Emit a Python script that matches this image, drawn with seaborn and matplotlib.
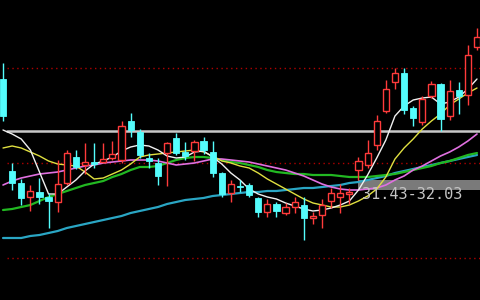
import numpy as np
import pandas as pd
import matplotlib
matplotlib.use("Agg")
import matplotlib.pyplot as plt
import seaborn as sns

# ---- data (prices) ----
open_ = [38.09, 32.57, 31.85, 31.01, 31.31, 31.01, 30.71, 31.85, 33.41, 32.93,
         33.11, 33.11, 33.35, 33.23, 35.57, 34.91, 33.35, 33.05, 33.65, 34.55,
         33.71, 33.77, 34.37, 33.71, 32.45, 31.25, 31.67, 31.73, 30.95, 30.11,
         30.59, 30.05, 30.41, 30.53, 29.75, 29.93, 30.77, 31.01, 31.19, 32.63,
         32.93, 34.13, 36.17, 37.91, 38.45, 36.35, 35.51, 37.07, 37.79, 35.87,
         37.43, 37.13, 40.01]
close = [35.87, 31.85, 30.95, 31.37, 31.01, 30.77, 31.79, 33.65, 32.81, 33.11,
         32.99, 33.29, 33.59, 35.27, 35.03, 33.53, 33.17, 32.27, 34.25, 33.65,
         33.47, 34.31, 33.83, 32.45, 31.19, 31.79, 31.61, 31.13, 30.11, 30.59,
         30.17, 30.41, 30.71, 29.75, 29.87, 30.53, 31.25, 31.25, 31.31, 33.17,
         33.65, 35.57, 37.49, 38.45, 36.23, 35.75, 36.89, 37.79, 35.69, 37.37,
         37.07, 39.53, 40.61]
high = [39.05, 33.05, 32.09, 31.73, 32.15, 31.25, 33.23, 33.83, 33.83, 34.25,
        34.25, 34.25, 34.37, 35.57, 36.05, 35.09, 33.65, 33.35, 34.31, 34.85,
        34.31, 34.43, 34.61, 34.37, 32.51, 32.03, 32.03, 31.85, 31.01, 30.89,
        30.71, 30.65, 31.01, 31.01, 30.11, 30.89, 31.55, 31.79, 31.55, 33.41,
        34.43, 35.93, 38.03, 38.75, 38.75, 36.47, 37.07, 37.97, 37.85, 38.03,
        37.91, 40.13, 41.15]
low = [35.57, 31.43, 30.53, 30.17, 30.59, 29.15, 30.11, 31.73, 32.69, 32.39,
       32.75, 33.05, 33.23, 33.05, 34.61, 33.35, 32.75, 31.73, 31.67, 33.53,
       33.23, 33.17, 33.59, 32.21, 31.01, 30.71, 31.31, 31.01, 29.81, 29.81,
       29.81, 29.93, 30.05, 28.43, 29.39, 29.15, 30.35, 30.05, 30.59, 32.03,
       32.75, 33.83, 36.05, 37.49, 35.99, 35.27, 35.33, 36.95, 34.97, 35.63,
       35.99, 36.53, 39.83]

ma5 = [35.03, 34.79, 34.49, 33.83, 32.51, 31.19, 31.19, 31.61, 32.03, 32.57,
       32.99, 33.17, 33.41, 33.77, 34.01, 34.13, 34.07, 33.83, 33.47, 33.35,
       33.41, 33.71, 33.77, 33.41, 32.99, 32.45, 32.03, 31.49, 31.19, 31.01,
       30.89, 30.65, 30.47, 30.29, 30.17, 30.23, 30.35, 30.53, 30.77, 31.43,
       32.33, 33.35, 34.43, 35.87, 36.47, 36.83, 36.95, 37.01, 36.59, 36.71,
       37.01, 37.49, 38.09]
ma10 = [33.95, 34.07, 33.95, 33.71, 33.47, 33.17, 32.99, 32.93, 32.87, 32.51,
        32.09, 32.15, 32.39, 32.63, 32.99, 33.41, 33.53, 33.59, 33.65, 33.71,
        33.77, 33.83, 33.71, 33.47, 33.17, 33.05, 32.87, 32.75, 32.45, 32.09,
        31.79, 31.49, 31.19, 30.89, 30.65, 30.53, 30.41, 30.41, 30.53, 30.77,
        31.07, 31.49, 32.21, 33.29, 33.95, 34.49, 35.09, 35.57, 35.99, 36.53,
        36.89, 37.25, 37.55]
ma20 = [31.73, 31.97, 32.15, 32.27, 32.39, 32.45, 32.51, 32.63, 32.75, 32.87,
        32.93, 33.05, 33.11, 33.17, 33.23, 33.23, 33.23, 33.17, 33.05, 32.93,
        32.99, 33.05, 33.17, 33.29, 33.29, 33.23, 33.17, 33.11, 32.99, 32.87,
        32.75, 32.63, 32.45, 32.27, 32.03, 31.79, 31.61, 31.49, 31.43, 31.43,
        31.49, 31.55, 31.73, 32.03, 32.27, 32.63, 32.87, 33.17, 33.47, 33.71,
        34.01, 34.37, 34.79]
ma30 = [30.23, 30.29, 30.41, 30.53, 30.77, 31.01, 31.19, 31.37, 31.55, 31.73,
        31.85, 31.97, 32.21, 32.39, 32.63, 32.81, 32.81, 32.87, 33.05, 33.23,
        33.35, 33.41, 33.41, 33.35, 33.23, 33.11, 33.05, 32.93, 32.81, 32.63,
        32.51, 32.45, 32.39, 32.39, 32.33, 32.33, 32.33, 32.27, 32.21, 32.21,
        32.21, 32.27, 32.33, 32.39, 32.51, 32.63, 32.75, 32.87, 33.05, 33.17,
        33.35, 33.53, 33.65]
ma60 = [28.55, 28.55, 28.55, 28.67, 28.73, 28.85, 28.97, 29.15, 29.27, 29.39,
        29.51, 29.63, 29.75, 29.87, 30.05, 30.17, 30.29, 30.41, 30.59, 30.71,
        30.83, 30.89, 30.95, 31.07, 31.13, 31.19, 31.25, 31.31, 31.31, 31.37,
        31.37, 31.43, 31.49, 31.55, 31.55, 31.61, 31.67, 31.73, 31.85, 31.91,
        32.03, 32.15, 32.27, 32.45, 32.57, 32.69, 32.81, 32.93, 33.05, 33.17,
        33.29, 33.41, 33.53]

ref_solid = 34.97
ref_dotted = [38.75, 33.05, 27.35]
band_lo, band_hi = 31.43, 32.03
band_label = "31.43-32.03"

# ---- styling ----
sns.set_theme(style="dark", rc={"axes.facecolor": "black", "figure.facecolor": "black"})
UP = "#ff3b3b"
DOWN = "#54fcfc"

n = len(open_)
idx = np.arange(n)
df = pd.DataFrame({"i": idx, "open": open_, "close": close, "high": high, "low": low,
                   "ma5": ma5, "ma10": ma10, "ma20": ma20, "ma30": ma30, "ma60": ma60})

fig = plt.figure(figsize=(4.8, 3.0), dpi=100)
ax = fig.add_axes([0, 0, 1, 1])
ax.set_facecolor("black")

x0 = 7 / 480
for v in ref_dotted:
    ax.axhline(v, xmin=x0, xmax=1, color="#b00000", lw=1.0, ls=(0, (1, 2.5)), zorder=1)
ax.axhline(ref_solid, xmin=x0, xmax=1, color="#c8c8c8", lw=1.8, zorder=2)
ax.axhspan(band_lo, band_hi, xmin=358 / 480, xmax=1, color="#7a7a7a", lw=0, zorder=1.5)

# MA lines via seaborn
ma_styles = [("ma60", "#2aa6c4", 1.6), ("ma30", "#22b822", 1.6), ("ma20", "#e070e0", 1.2),
             ("ma10", "#e0e040", 1.0), ("ma5", "#f0f0f0", 1.0)]
for col, c, lw in ma_styles:
    sns.lineplot(data=df, x="i", y=col, ax=ax, color=c, lw=lw, zorder=3, legend=False)

# candles
w = 0.68
for _, r in df.iterrows():
    i = r["i"]
    o, cl, h, l = r["open"], r["close"], r["high"], r["low"]
    top, bot = max(o, cl), min(o, cl)
    if cl >= o:
        ax.vlines(i, top, h, color=UP, lw=1.0, zorder=4)
        ax.vlines(i, l, bot, color=UP, lw=1.0, zorder=4)
        ax.bar(i, max(top - bot, 0.04), bottom=bot, width=w, facecolor="black",
               edgecolor=UP, lw=1.0, zorder=5)
    else:
        ax.vlines(i, l, h, color=DOWN, lw=1.0, zorder=4)
        ax.bar(i, max(top - bot, 0.06), bottom=bot, width=w, facecolor=DOWN,
               edgecolor=DOWN, lw=0.6, zorder=5)

ax.text(39.4, (band_lo + band_hi) / 2 - 0.55, band_label, color="#c4c4c4",
        fontsize=11, family="DejaVu Sans Mono", va="center", ha="left", zorder=6)

ax.set_xlim(-0.33, 52.33)
ax.set_ylim(24.83, 42.83)
ax.set_xlabel("")
ax.set_ylabel("")
ax.set_xticks([])
ax.set_yticks([])
for s in ax.spines.values():
    s.set_visible(False)
ax.grid(False)

fig.savefig("out.png", dpi=100, facecolor="black")
